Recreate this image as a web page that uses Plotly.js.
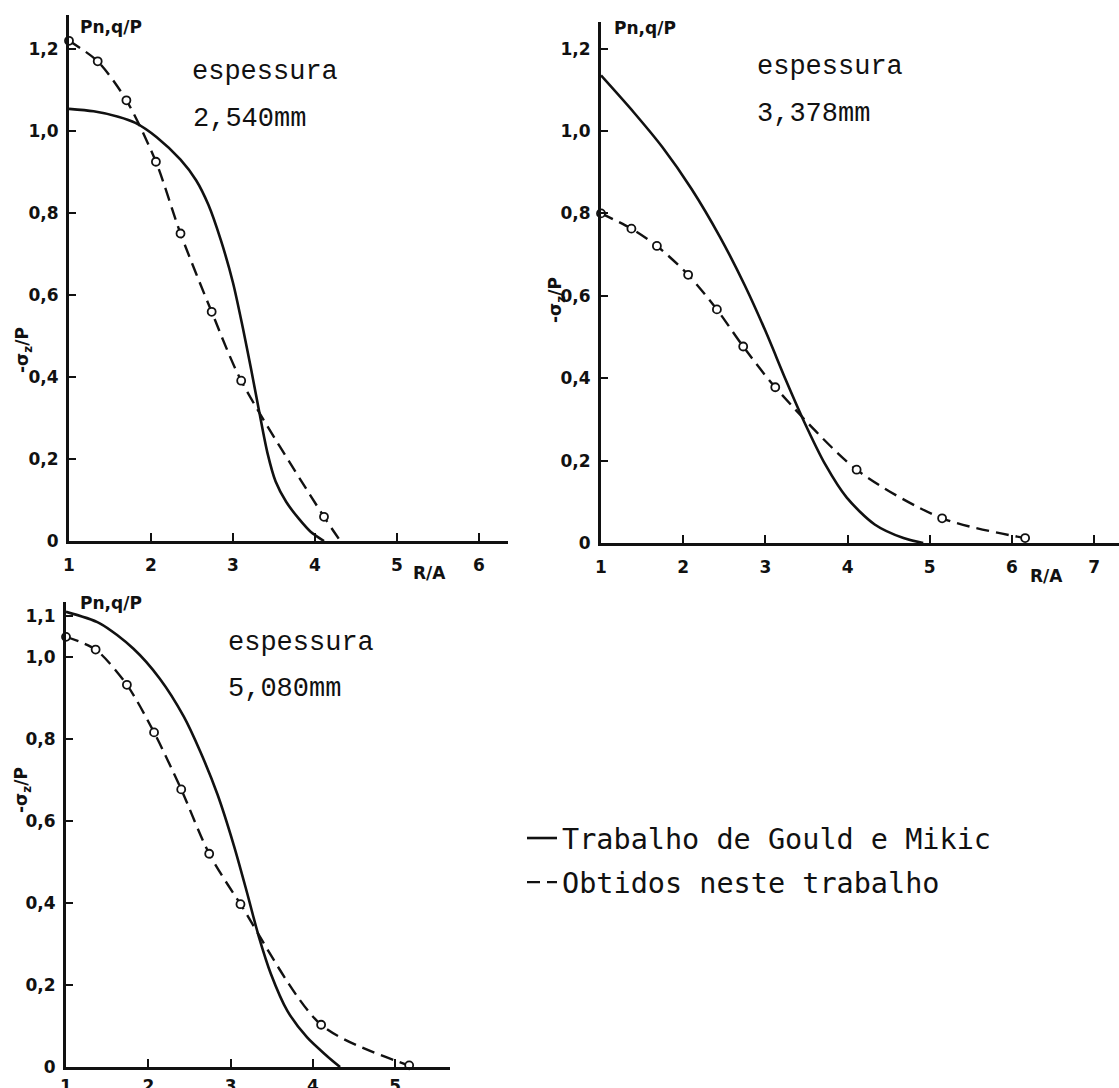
<!DOCTYPE html>
<html><head><meta charset="utf-8">
<script src="https://cdn.plot.ly/plotly-3.0.1.min.js"></script>
<style>html,body{margin:0;padding:0;background:#fff}</style>
</head><body><div id="chart" style="width:1119px;height:1088px"></div>
<script>
// ---------- data ----------
// Panel 1: espessura 2,540mm
const gould1R = [1.0, 1.3, 1.6, 1.81, 2.07, 2.36, 2.55, 2.70, 2.85, 3.00, 3.12, 3.22, 3.32, 3.42, 3.52, 3.65, 3.80, 3.95, 4.11];
const gould1V = [1.054, 1.048, 1.035, 1.020, 0.985, 0.930, 0.880, 0.820, 0.735, 0.630, 0.520, 0.420, 0.315, 0.215, 0.145, 0.095, 0.055, 0.022, 0];
const obt1R = [1.0, 1.35, 1.70, 2.06, 2.36, 2.74, 3.10, 4.11];
const obt1V = [1.22, 1.17, 1.075, 0.925, 0.75, 0.559, 0.391, 0.059];
const obt1EndR = [4.31];
const obt1EndV = [0];
// Panel 2: espessura 3,378mm
const gould2R = [1.0, 1.4, 1.75, 2.1, 2.45, 2.75, 3.0, 3.25, 3.47, 3.73, 3.99, 4.33, 4.68, 4.92];
const gould2V = [1.135, 1.045, 0.960, 0.860, 0.742, 0.625, 0.515, 0.395, 0.295, 0.190, 0.110, 0.045, 0.012, 0];
const obt2R = [1.0, 1.37, 1.68, 2.06, 2.41, 2.73, 3.12, 4.11, 5.15, 6.16];
const obt2V = [0.80, 0.763, 0.721, 0.651, 0.567, 0.477, 0.378, 0.178, 0.060, 0.012];
// Panel 3: espessura 5,080mm
const gould3R = [1.0, 1.41, 1.82, 2.14, 2.43, 2.63, 2.84, 3.04, 3.20, 3.34, 3.49, 3.69, 3.93, 4.17, 4.33];
const gould3V = [1.110, 1.082, 1.020, 0.947, 0.855, 0.770, 0.665, 0.540, 0.425, 0.320, 0.227, 0.137, 0.072, 0.027, 0];
const obt3R = [1.0, 1.36, 1.74, 2.07, 2.40, 2.74, 3.12, 4.10, 5.17];
const obt3V = [1.049, 1.018, 0.932, 0.816, 0.677, 0.520, 0.397, 0.103, 0.004];

// tick labels
const yTickVals = [0, 0.2, 0.4, 0.6, 0.8, 1.0, 1.2];
const yTickText = ['0', '0,2', '0,4', '0,6', '0,8', '1,0', '1,2'];
const y3TickVals = [0, 0.2, 0.4, 0.6, 0.8, 1.0, 1.1];
const y3TickText = ['0', '0,2', '0,4', '0,6', '0,8', '1,0', '1,1'];
const x1TickVals = [1, 2, 3, 4, 5, 6];
const x2TickVals = [1, 2, 3, 4, 5, 6, 7];
const x3TickVals = [1, 2, 3, 4, 5];

const thicknessLabels = ['2,540mm', '3,378mm', '5,080mm'];
const seriesNames = ['Trabalho de Gould e Mikic', 'Obtidos neste trabalho'];

// ---------- styling ----------
const INK = '#111';
const W = 1119, H = 1088;
const fx = p => p / W;
const fy = p => 1 - p / H;
const DASH = '13px,7px';

function gouldTrace(r, v, xa, ya, show) {
  return {x: r, y: v, xaxis: xa, yaxis: ya, type: 'scatter', mode: 'lines',
    name: seriesNames[0], legendgroup: 'g1', showlegend: show,
    line: {color: INK, width: 2.6, shape: 'spline', smoothing: 0.8}, cliponaxis: false, hoverinfo: 'skip'};
}
function obtLine(r, v, xa, ya, show) {
  return {x: r, y: v, xaxis: xa, yaxis: ya, type: 'scatter', mode: 'lines',
    name: seriesNames[1], legendgroup: 'g2', showlegend: show,
    line: {color: INK, width: 2.4, dash: DASH, shape: 'spline', smoothing: 0.8}, cliponaxis: false, hoverinfo: 'skip'};
}
function obtPts(r, v, xa, ya) {
  return {x: r, y: v, xaxis: xa, yaxis: ya, type: 'scatter', mode: 'markers',
    name: seriesNames[1], legendgroup: 'g2', showlegend: false,
    marker: {symbol: 'circle', size: 8, color: '#fff', line: {color: INK, width: 1.8}}, cliponaxis: false, hoverinfo: 'skip'};
}

const data = [
  gouldTrace(gould1R, gould1V, 'x', 'y', true),
  obtLine(obt1R.concat(obt1EndR), obt1V.concat(obt1EndV), 'x', 'y', true),
  obtPts(obt1R, obt1V, 'x', 'y'),
  gouldTrace(gould2R, gould2V, 'x2', 'y2', false),
  obtLine(obt2R, obt2V, 'x2', 'y2', false),
  obtPts(obt2R, obt2V, 'x2', 'y2'),
  gouldTrace(gould3R, gould3V, 'x3', 'y3', false),
  obtLine(obt3R, obt3V, 'x3', 'y3', false),
  obtPts(obt3R, obt3V, 'x3', 'y3')
];

const tickFont = {family: 'DejaVu Sans', size: 17, weight: 'bold', color: INK};
function xAxis(domain, range, vals, anchor, standoff) {
  return {domain: domain, range: range, anchor: anchor, tickvals: vals, ticktext: vals.map(String),
    showline: true, linecolor: INK, linewidth: 2.5, ticks: 'inside', ticklen: 8, tickwidth: 2, tickcolor: INK,
    showgrid: false, zeroline: false, tickfont: tickFont, ticklabelstandoff: standoff, fixedrange: true};
}
function yAxis(domain, range, vals, text, anchor) {
  return {domain: domain, range: range, anchor: anchor, tickvals: vals, ticktext: text,
    showline: true, linecolor: INK, linewidth: 3, ticks: 'inside', ticklen: 7, tickwidth: 2, tickcolor: INK,
    showgrid: false, zeroline: false, tickfont: tickFont, ticklabelstandoff: 4, fixedrange: true};
}

const serifFont = {family: 'Liberation Mono', size: 27, color: INK};
const labFont = {family: 'DejaVu Sans', size: 17, weight: 'bold', color: INK};

function ann(text, x, y, font, extra) {
  return Object.assign({text: text, xref: 'paper', yref: 'paper', x: fx(x), y: fy(y),
    showarrow: false, font: font, xanchor: 'center', yanchor: 'middle'}, extra || {});
}

const annotations = [
  // panel 1
  ann('Pn,q/P', 111, 27, labFont),
  ann('-σ<sub>z</sub>/P', 23, 350, labFont, {textangle: -90}),
  ann('R/A', 429, 573, labFont),
  ann('espessura', 190, 72, serifFont, {xanchor: 'left'}),
  ann(thicknessLabels[0], 191, 119, serifFont, {xanchor: 'left'}),
  // panel 2
  ann('Pn,q/P', 645, 28, labFont),
  ann('-σ<sub>z</sub>/P', 556, 300, labFont, {textangle: -90}),
  ann('R/A', 1046, 576, labFont),
  ann('espessura', 755, 67, serifFont, {xanchor: 'left'}),
  ann(thicknessLabels[1], 755, 114, serifFont, {xanchor: 'left'}),
  // panel 3
  ann('Pn,q/P', 111, 603, labFont),
  ann('-σ<sub>z</sub>/P', 22, 790, labFont, {textangle: -90}),
  ann('espessura', 226, 643, serifFont, {xanchor: 'left'}),
  ann(thicknessLabels[2], 226, 689, serifFont, {xanchor: 'left'})
];

const layout = {
  width: W, height: H,
  margin: {l: 0, r: 0, t: 0, b: 0, pad: 0},
  paper_bgcolor: '#fff', plot_bgcolor: 'rgba(0,0,0,0)',
  showlegend: true,
  legend: {x: fx(522), y: fy(813), xanchor: 'left', yanchor: 'top',
    font: {family: 'DejaVu Sans Mono', size: 28.5, color: INK},
    bgcolor: 'rgba(0,0,0,0)', borderwidth: 0, traceorder: 'grouped', tracegroupgap: 4},
  xaxis: xAxis([fx(69), fx(508)], [1, 6.354], x1TickVals, 'y', 7),
  yaxis: yAxis([fy(541), fy(15)], [0, 1.283], yTickVals, yTickText, 'x'),
  xaxis2: xAxis([fx(601), 1], [1, 7.302], x2TickVals, 'y2', 7),
  yaxis2: yAxis([fy(543), fy(22)], [0, 1.2646], yTickVals, yTickText, 'x2'),
  xaxis3: xAxis([fx(66), fx(450)], [1, 5.666], x3TickVals, 'y3', 2),
  yaxis3: yAxis([fy(1067), fy(602)], [0, 1.134], y3TickVals, y3TickText, 'x3'),
  annotations: annotations
};

Plotly.newPlot('chart', data, layout, {displayModeBar: false, staticPlot: true});
</script></body></html>
